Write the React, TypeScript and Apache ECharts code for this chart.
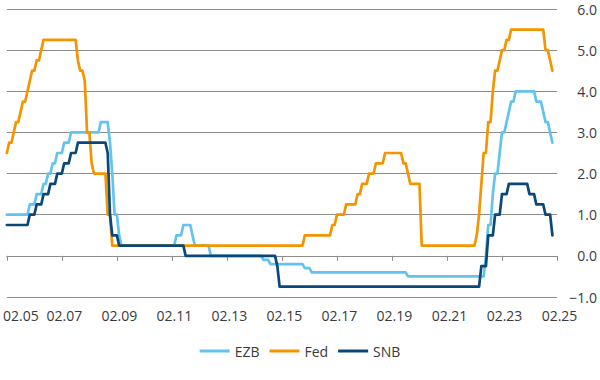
import React, { useEffect, useRef } from "react";
import * as echarts from "echarts";

// Policy rates (% p.a.), monthly change points: [month, rate]
const EZB_CHANGES: [string, number][] = [
  ["2005-02", 1.0], ["2005-12", 1.25], ["2006-03", 1.5], ["2006-06", 1.75], ["2006-08", 2.0],
  ["2006-10", 2.25], ["2006-12", 2.5], ["2007-03", 2.75], ["2007-06", 3.0], ["2008-07", 3.25],
  ["2008-11", 2.75], ["2008-12", 2.0], ["2009-01", 1.0], ["2009-03", 0.5], ["2009-04", 0.25],
  ["2011-04", 0.5], ["2011-07", 0.75], ["2011-11", 0.5], ["2011-12", 0.25], ["2012-07", 0.0],
  ["2014-06", -0.1], ["2014-09", -0.2], ["2015-12", -0.3], ["2016-03", -0.4], ["2019-09", -0.5],
  ["2022-07", 0.0], ["2022-08", 0.75], ["2022-10", 1.5], ["2022-11", 2.0], ["2023-01", 2.5],
  ["2023-02", 3.0], ["2023-04", 3.25], ["2023-05", 3.5], ["2023-06", 3.75], ["2023-08", 4.0],
  ["2024-05", 3.75], ["2024-08", 3.5], ["2024-09", 3.25], ["2024-11", 3.0], ["2024-12", 2.75],
];

const FED_CHANGES: [string, number][] = [
  ["2005-02", 2.5], ["2005-03", 2.75], ["2005-05", 3.0], ["2005-06", 3.25], ["2005-08", 3.5],
  ["2005-09", 3.75], ["2005-11", 4.0], ["2005-12", 4.25], ["2006-01", 4.5], ["2006-03", 4.75],
  ["2006-05", 5.0], ["2006-06", 5.25], ["2007-09", 4.75], ["2007-10", 4.5], ["2007-12", 4.25],
  ["2008-01", 3.0], ["2008-03", 2.25], ["2008-04", 2.0], ["2008-10", 1.0], ["2008-12", 0.25],
  ["2015-12", 0.5], ["2016-12", 0.75], ["2017-02", 1.0], ["2017-06", 1.25], ["2017-11", 1.5],
  ["2018-01", 1.75], ["2018-04", 2.0], ["2018-07", 2.25], ["2018-11", 2.5], ["2019-07", 2.25],
  ["2019-09", 2.0], ["2019-10", 1.75], ["2020-03", 0.25], ["2022-03", 0.5], ["2022-04", 1.0],
  ["2022-05", 1.75], ["2022-06", 2.5], ["2022-08", 3.25], ["2022-10", 4.0], ["2022-11", 4.5],
  ["2023-01", 4.75], ["2023-02", 5.0], ["2023-04", 5.25], ["2023-06", 5.5], ["2024-09", 5.0],
  ["2024-11", 4.75], ["2024-12", 4.5],
];

const SNB_CHANGES: [string, number][] = [
  ["2005-02", 0.75], ["2005-12", 1.0], ["2006-03", 1.25], ["2006-06", 1.5], ["2006-09", 1.75],
  ["2006-12", 2.0], ["2007-03", 2.25], ["2007-06", 2.5], ["2007-09", 2.75], ["2008-10", 2.5],
  ["2008-11", 1.0], ["2008-12", 0.5], ["2009-03", 0.25], ["2011-08", 0.0], ["2014-12", -0.25],
  ["2015-01", -0.75], ["2022-05", -0.25], ["2022-08", 0.5], ["2022-11", 1.0], ["2023-02", 1.5],
  ["2023-05", 1.75], ["2024-02", 1.5], ["2024-05", 1.25], ["2024-09", 1.0], ["2024-12", 0.5],
];

const SERIES_NAMES = ["EZB", "Fed", "SNB"];
const SERIES_COLORS = ["#63C3EF", "#F39400", "#0B4877"];
const X_TICK_LABELS = ["02.05", "02.07", "02.09", "02.11", "02.13", "02.15", "02.17", "02.19", "02.21", "02.23", "02.25"];
const FIRST_MONTH = "2005-02";
const LAST_MONTH = "2024-12";

function monthIndex(s: string): number {
  const [y, m] = s.split("-").map(Number);
  const [y0, m0] = FIRST_MONTH.split("-").map(Number);
  return (y - y0) * 12 + (m - m0);
}

function expand(changes: [string, number][]): [number, number][] {
  const end = monthIndex(LAST_MONTH);
  const map = new Map<number, number>();
  changes.forEach(([d, v]) => map.set(monthIndex(d), v));
  const out: [number, number][] = [];
  let cur = changes[0][1];
  for (let i = 0; i <= end; i++) {
    if (map.has(i)) cur = map.get(i) as number;
    out.push([i, cur]);
  }
  return out;
}

const FONT = "'Open Sans', 'Noto Sans', sans-serif";
const TEXT_COLOR = "#3a3a3a";
const GRID_COLOR = "#8e8c88";

export default function App() {
  const ref = useRef<HTMLDivElement>(null);
  useEffect(() => {
    if (!ref.current) return;
    const chart = echarts.init(ref.current, undefined, { renderer: "svg" });
    const data = [expand(EZB_CHANGES), expand(FED_CHANGES), expand(SNB_CHANGES)];
    chart.setOption({
      animation: false,
      backgroundColor: "#ffffff",
      textStyle: { fontFamily: FONT },
      grid: { left: 6, right: 43, top: 9, bottom: 83, containLabel: false },
      legend: {
        data: SERIES_NAMES,
        top: 339,
        left: "center",
        icon: "rect",
        itemWidth: 30,
        itemHeight: 3,
        itemGap: 10,
        textStyle: { fontFamily: FONT, fontSize: 14, color: TEXT_COLOR },
      },
      xAxis: {
        type: "value",
        min: 0,
        max: 240,
        interval: 24,
        axisLine: { show: true, lineStyle: { color: GRID_COLOR, width: 1 } },
        axisTick: { show: true, length: 5, lineStyle: { color: GRID_COLOR, width: 1 } },
        splitLine: { show: false },
        axisLabel: {
          margin: 11,
          fontFamily: FONT,
          fontSize: 14,
          color: TEXT_COLOR,
          formatter: (v: number) => {
            const i = Math.round(v / 24);
            return i === 0 ? "{first|" + X_TICK_LABELS[i] + "}" : "{rest|" + X_TICK_LABELS[i] + "}";
          },
          rich: {
            first: { fontFamily: FONT, fontSize: 14, color: TEXT_COLOR, padding: [0, 0, 0, 28] },
            rest: { fontFamily: FONT, fontSize: 14, color: TEXT_COLOR, padding: [0, 0, 0, 5] },
          },
        },
      },
      yAxis: {
        type: "value",
        position: "right",
        min: -1,
        max: 6,
        interval: 1,
        axisLine: { show: false },
        axisTick: { show: false },
        splitLine: { show: true, lineStyle: { color: GRID_COLOR, width: 1 } },
        axisLabel: {
          margin: 40,
          align: "right",
          fontFamily: FONT,
          fontSize: 14,
          color: TEXT_COLOR,
          formatter: (v: number) => v.toFixed(1).replace("-", "\u2212"),
        },
      },
      series: SERIES_NAMES.map((name, i) => ({
        name,
        type: "line",
        data: data[i],
        showSymbol: false,
        symbol: "none",
        color: SERIES_COLORS[i],
        lineStyle: { color: SERIES_COLORS[i], width: 2.7, join: "round", cap: "round" },
        z: 2 + i,
      })),
    });
    return () => chart.dispose();
  }, []);
  return (
    <div
      ref={ref}
      style={{ position: "fixed", left: 0, top: 0, width: 600, height: 380, background: "#fff" }}
    />
  );
}
